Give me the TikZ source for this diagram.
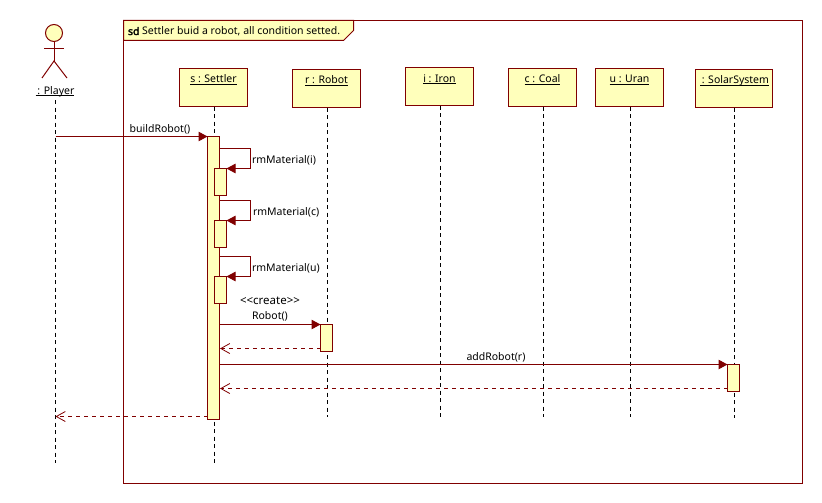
\documentclass[tikz,border=0pt]{standalone}
\usepackage{fontspec}
\setmainfont{Noto Sans}
\newfontfamily\sdfont{Noto Sans}[FakeBold=2.5]
\usetikzlibrary{arrows.meta}
\definecolor{umlred}{HTML}{800000}
\definecolor{umlfill}{HTML}{FFFFBB}
\newsavebox{\ulbox}
\newcommand{\ulined}[1]{\sbox{\ulbox}{#1}\rlap{\rule[-2.4pt]{\wd\ulbox}{1pt}}\usebox{\ulbox}}
\tikzset{
  x=1pt,y=-1pt,
  every node/.style={font=\fontsize{10.5}{12}\selectfont,inner sep=0pt,outer sep=0pt},
  obj/.style={draw=umlred,fill=umlfill,line width=1pt,minimum height=38pt,minimum width=68pt},
  activ/.style={draw=umlred,fill=umlfill,line width=1pt,minimum width=12pt},
  life/.style={draw=black,line width=1pt,dash pattern=on 4pt off 3.5pt},
  limb/.style={draw=umlred,line width=1pt},
  msg/.style={draw=umlred,line width=1pt,-{Triangle[length=9pt,width=9.5pt]}},
  ret/.style={draw=umlred,line width=1pt,dash pattern=on 4pt off 4pt,-{Straight Barb[length=9pt,width=10pt,line width=.8pt]}},
  lab/.style={text=black,anchor=base},
  labw/.style={text=black,anchor=base west},
}
\begin{document}
\begin{tikzpicture}
\useasboundingbox (0,0) rectangle (822,503);
% frame
\coordinate (fa) at (123.5,20.5);
\coordinate (fb) at (802.5,483.5);
\draw[limb] (fa) rectangle (fb);
\coordinate (t1) at (123.5,40.5);
\coordinate (t2) at (343.5,40.5);
\coordinate (t3) at (353.5,30.5);
\coordinate (t4) at (353.5,20.5);
\draw[limb,fill=umlfill] (fa) -- (t1) -- (t2) -- (t3) -- (t4) -- cycle;
\node[labw] (title) at (128,35) {{\sdfont sd} Settler buid a robot, all condition setted.};
% lifeline ends
\coordinate (pe) at (55.5,463);
\coordinate (pt) at (55.5,100);
\coordinate (se) at (214.5,465);
\coordinate (re) at (327.5,417);
\coordinate (ie) at (440.5,417);
\coordinate (ce) at (543.5,417);
\coordinate (ue) at (630.5,417);
\coordinate (oe) at (734.5,418);
% actor
\node[draw=umlred,fill=umlfill,line width=1pt,circle,minimum size=17pt] (head) at (54,33) {};
\coordinate (hip) at (54,61);
\coordinate (armL) at (44,49);
\coordinate (armR) at (64,49);
\coordinate (legL) at (42,78);
\coordinate (legR) at (67,78);
\draw[limb] (head.south) -- (hip);
\draw[limb] (armL) -- (armR);
\draw[limb] (legL) -- (hip) -- (legR);
\node[lab] (player) at (55,94) {\ulined{\,: Player}};
% lifelines
\draw[life] (pt) -- (pe);
\node[obj] (s) at (213.5,87.5) {};
\node[obj] (r) at (326.5,88.5) {};
\node[obj] (i) at (439.5,86.5) {};
\node[obj] (c) at (542.5,87.5) {};
\node[obj] (u) at (629.5,87.5) {};
\node[obj,minimum width=77pt] (o) at (734,88.5) {};
\draw[life] (s.south -| se) -- (se);
\draw[life] (r.south -| re) -- (re);
\draw[life] (i.south -| ie) -- (ie);
\draw[life] (c.south -| ce) -- (ce);
\draw[life] (u.south -| ue) -- (ue);
\draw[life] (o.south -| oe) -- (oe);
\node[lab] (sl) at (213.5,83) {\ulined{s : Settler}};
\node[lab] (rl) at (326.5,84) {\ulined{r : Robot}};
\node[lab] (il) at (439.5,82) {\ulined{i : Iron}};
\node[lab] (cl) at (542.5,83) {\ulined{c : Coal}};
\node[lab] (ul) at (629.5,83) {\ulined{u : Uran}};
\node[lab] (ol) at (734.5,84) {\ulined{\,: SolarSystem}};
% activations
\node[activ,minimum height=283pt] (as) at (213.5,278) {};
\node[activ,minimum height=26.5pt] (a1) at (220.5,181.75) {};
\node[activ,minimum height=26.5pt] (a2) at (220.5,233.75) {};
\node[activ,minimum height=26.5pt] (a3) at (220.5,289.75) {};
\node[activ,minimum height=27pt] (ar) at (326.5,338) {};
\node[activ,minimum height=27pt] (ao) at (733.5,378) {};
% messages
\draw[msg] (pt |- as.north) -- (as.north west);
\coordinate (l1s) at (219.5,148.5);
\coordinate (l1c) at (250.5,148.5);
\coordinate (l1d) at (250.5,168.5);
\draw[msg] (l1s) -- (l1c) -- (l1d) -- (a1.north east);
\coordinate (l2s) at (219.5,200.5);
\coordinate (l2c) at (250.5,200.5);
\coordinate (l2d) at (250.5,220.5);
\draw[msg] (l2s) -- (l2c) -- (l2d) -- (a2.north east);
\coordinate (l3s) at (219.5,256.5);
\coordinate (l3c) at (250.5,256.5);
\coordinate (l3d) at (250.5,276.5);
\draw[msg] (l3s) -- (l3c) -- (l3d) -- (a3.north east);
\coordinate (m4s) at (219.5,324.5);
\draw[msg] (m4s) -- (ar.north west);
\coordinate (m5e) at (220,348.5);
\draw[ret] (ar.west |- m5e) -- (m5e);
\coordinate (m6s) at (219.5,364.5);
\draw[msg] (m6s) -- (ao.north west);
\coordinate (m7e) at (220,388.5);
\draw[ret] (ao.west |- m7e) -- (m7e);
\coordinate (m8s) at (207.5,416.5);
\draw[ret] (m8s) -- (pt |- m8s);
% message labels
\node[lab] (t1l) at (160,132) {buildRobot()};
\node[labw] (t2l) at (252,163) {rmMaterial(i)};
\node[labw] (t3l) at (253,215) {rmMaterial(c)};
\node[labw] (t4l) at (252,271) {rmMaterial(u)};
\node[lab] (t5l) at (270,304) {\fontsize{11.5}{12}\selectfont <{}<create>{}>};
\node[lab] (t6l) at (270,319) {Robot()};
\node[lab] (t7l) at (496,360) {addRobot(r)};
\end{tikzpicture}
\end{document}
